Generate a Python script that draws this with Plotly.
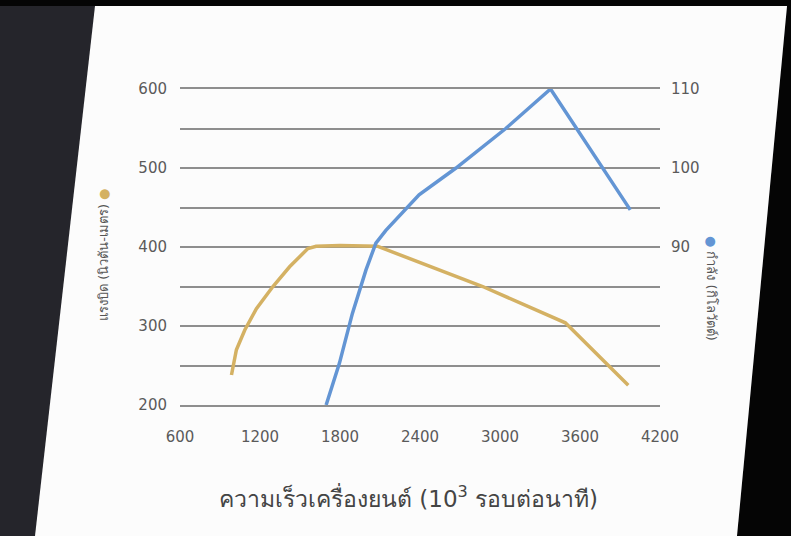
import plotly.graph_objects as go

# Torque (N·m) vs engine speed (rpm)
torque_rpm = [986, 1023, 1086, 1173, 1297, 1422, 1559, 1621, 1800, 2080, 2870, 3490, 3962]
torque_nm = [238, 270, 295, 322, 350, 375, 398, 401, 402, 401, 350, 304, 225]

# Power (kW) vs engine speed (rpm)
power_rpm = [1696, 1796, 1893, 1995, 2069, 2144, 2393, 2670, 3043, 3379, 3977]
power_kw = [70.0, 75.3, 81.6, 87.1, 90.5, 92.1, 96.6, 100.0, 105.0, 110.0, 94.7]

x_ticks = [600, 1200, 1800, 2400, 3000, 3600, 4200]
left_ticks = [200, 300, 400, 500, 600]
right_ticks = [90, 100, 110]

TORQUE_COLOR = "#d4b163"
POWER_COLOR = "#6395d4"
GRID = "#8e8e8e"
W, H = 791, 536
L, R, T, B = 180, 660, 89, 405


def px(x):
    return (x - L) / (R - L)


def py(y):
    return (B - y) / (B - T)


def path(pts):
    return "M " + " L ".join(f"{px(a):.4f},{py(b):.4f}" for a, b in pts) + " Z"


fig = go.Figure()
fig.add_trace(go.Scatter(x=torque_rpm, y=torque_nm, mode="lines",
                         line=dict(color=TORQUE_COLOR, width=3.5), yaxis="y"))
fig.add_trace(go.Scatter(x=power_rpm, y=power_kw, mode="lines",
                         line=dict(color=POWER_COLOR, width=3.5), yaxis="y2"))

shapes = [
    dict(type="path", xref="paper", yref="paper", layer="below",
         path=path([(0, 0), (791, 0), (791, 6), (0, 6)]),
         fillcolor="#050505", line=dict(width=0)),
    dict(type="path", xref="paper", yref="paper", layer="below",
         path=path([(787, 6), (791, 6), (791, 536), (737, 536)]),
         fillcolor="#050505", line=dict(width=0)),
    dict(type="path", xref="paper", yref="paper", layer="below",
         path=path([(95, 6), (787, 6), (737, 536), (35, 536)]),
         fillcolor="#fcfcfc", line=dict(width=0)),
]

FONT = "DejaVu Sans, Liberation Sans, sans-serif"
tickfont = dict(family=FONT, size=15, color="#5a5a5a")

fig.update_layout(
    width=W, height=H,
    margin=dict(l=L, r=W - R, t=T, b=H - B),
    paper_bgcolor="#25252b",
    plot_bgcolor="#fcfcfc",
    showlegend=False,
    shapes=shapes,
    xaxis=dict(range=[600, 4200], tickvals=x_ticks, showgrid=False, zeroline=False,
               showline=True, mirror=True, linecolor=GRID, linewidth=2,
               ticks="", tickfont=tickfont, ticklabelstandoff=17),
    yaxis=dict(range=[200, 600], tickvals=left_ticks,
               showgrid=True, gridcolor=GRID, gridwidth=2,
               minor=dict(dtick=50, showgrid=True, gridcolor=GRID, gridwidth=2),
               zeroline=False, showline=False, ticks="", tickfont=tickfont,
               ticklabelstandoff=12),
    yaxis2=dict(range=[70, 110], tickvals=right_ticks, overlaying="y", side="right",
                showgrid=False, zeroline=False, showline=False, ticks="",
                tickfont=tickfont, ticklabelstandoff=10),
    annotations=[
        dict(text="ความเร็วเครื่องยนต์ (10<sup>3</sup> รอบต่อนาที)",
             xref="paper", yref="paper", x=px(408), y=py(497), showarrow=False,
             xanchor="center", yanchor="middle",
             font=dict(family=FONT, size=23, color="#444444")),
        dict(text=f"แรงบิด (นิวตัน-เมตร) <span style='color:{TORQUE_COLOR}'>●</span>",
             xref="paper", yref="paper", x=px(103), y=py(255), textangle=-90,
             showarrow=False, xanchor="center", yanchor="middle",
             font=dict(family=FONT, size=13, color="#555555")),
        dict(text=f"<span style='color:{POWER_COLOR}'>●</span> กำลัง (กิโลวัตต์)",
             xref="paper", yref="paper", x=px(712), y=py(288), textangle=90,
             showarrow=False, xanchor="center", yanchor="middle",
             font=dict(family=FONT, size=13, color="#555555")),
    ],
)

fig.write_html(
    "out.html",
    config={"displayModeBar": False},
    post_script="document.body.style.margin='0';document.body.style.overflow='hidden';"
                "document.body.style.background='#050505';",
)
